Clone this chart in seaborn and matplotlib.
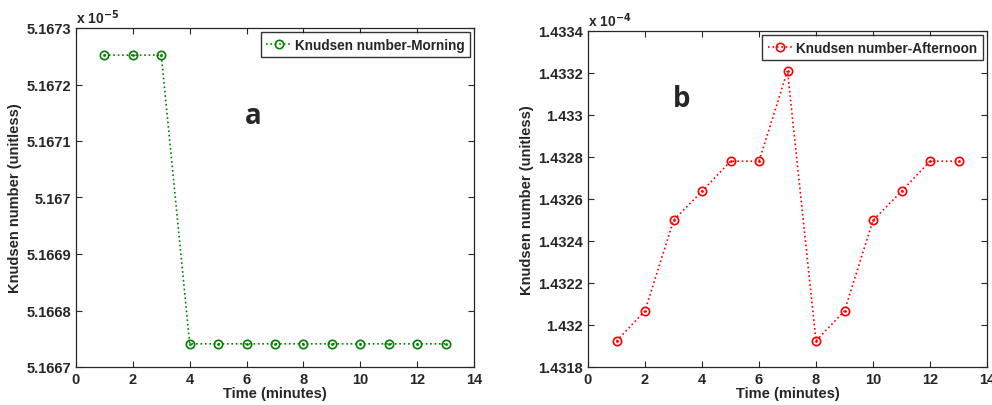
import seaborn as sb
import pandas as pd
import numpy as np
import matplotlib.pyplot as plt
from matplotlib.ticker import FuncFormatter, MultipleLocator

time_min = [1, 2, 3, 4, 5, 6, 7, 8, 9, 10, 11, 12, 13]
kn_morning = [5.167252, 5.167252, 5.167252, 5.166741, 5.166741, 5.166741, 5.166741,
              5.166741, 5.166741, 5.166741, 5.166741, 5.166741, 5.166741]
kn_afternoon = [1.431924, 1.432067, 1.432498, 1.432637, 1.43278, 1.43278, 1.433211,
                1.431924, 1.432067, 1.432498, 1.432637, 1.43278, 1.43278]

sb.set_style("ticks")
plt.rcParams['font.family'] = ['Liberation Sans', 'DejaVu Sans']
plt.rcParams['font.weight'] = 'bold'

df_m = pd.DataFrame({"time": time_min, "kn": np.array(kn_morning) * 1e-5})
df_a = pd.DataFrame({"time": time_min, "kn": np.array(kn_afternoon) * 1e-4})

fig = plt.figure(figsize=(9.92, 4.06), dpi=100)
ax1 = fig.add_axes([76 / 992, 1 - 368 / 406, 398 / 992, 339 / 406])
ax2 = fig.add_axes([588 / 992, 1 - 368 / 406, 399 / 992, 336 / 406])


def fmt(scale):
    def f(v, pos):
        s = "%.4f" % (v * scale)
        return s.rstrip("0").rstrip(".")
    return FuncFormatter(f)


def style_axis(ax, df, color, label, scale, exp, ylim, ystep, letter, lx, ly):
    sb.lineplot(data=df, x="time", y="kn", ax=ax, color=color, linestyle=":",
                linewidth=1.2, marker="o", markersize=6, markerfacecolor="none",
                markeredgecolor=color, markeredgewidth=1.2, label=label)
    # center dots of matlab markers
    ax.plot(df["time"], df["kn"], linestyle="none", marker=".", markersize=2, color=color)
    ax.set_xlim(0, 14)
    ax.set_ylim(*ylim)
    ax.xaxis.set_major_locator(MultipleLocator(2))
    ax.yaxis.set_major_locator(MultipleLocator(ystep))
    ax.yaxis.set_major_formatter(fmt(scale))
    ax.tick_params(direction="in", top=True, right=True, labelsize=10.5, length=4, width=0.8)
    for lab in ax.get_xticklabels() + ax.get_yticklabels():
        lab.set_fontweight("bold")
    for sp in ax.spines.values():
        sp.set_visible(True)
        sp.set_linewidth(0.9)
    ax.set_xlabel("Time (minutes)", fontsize=10.5, fontweight="bold", labelpad=0)
    ax.set_ylabel("Knudsen number (unitless)", fontsize=10.5, fontweight="bold", labelpad=3)
    ax.text(0.0, 1.005, "x 10$^{%d}$" % exp, transform=ax.transAxes, fontsize=10,
            ha="left", va="bottom")
    ax.text(lx, ly, letter, fontsize=20, fontweight="bold", ha="center", va="center",
            family=["Open Sans", "DejaVu Sans"])
    leg = ax.legend(loc="upper right", fontsize=9.8, frameon=True, fancybox=False,
                    handlelength=1.8, borderpad=0.4, handletextpad=0.3,
                    borderaxespad=0.3)
    leg.get_frame().set_edgecolor("black")
    leg.get_frame().set_linewidth(1.0)
    for t in leg.get_texts():
        t.set_fontweight("bold")


style_axis(ax1, df_m, (0, 0.5, 0), "Knudsen number-Morning", 1e5, -5,
           (5.1667e-5, 5.1673e-5), 0.0001e-5, "a", 6.25, 5.167145e-5)
style_axis(ax2, df_a, (1, 0, 0), "Knudsen number-Afternoon", 1e4, -4,
           (1.4318e-4, 1.4334e-4), 0.0002e-4, "b", 3.3, 1.433077e-4)

fig.savefig("out.png", dpi=100)
